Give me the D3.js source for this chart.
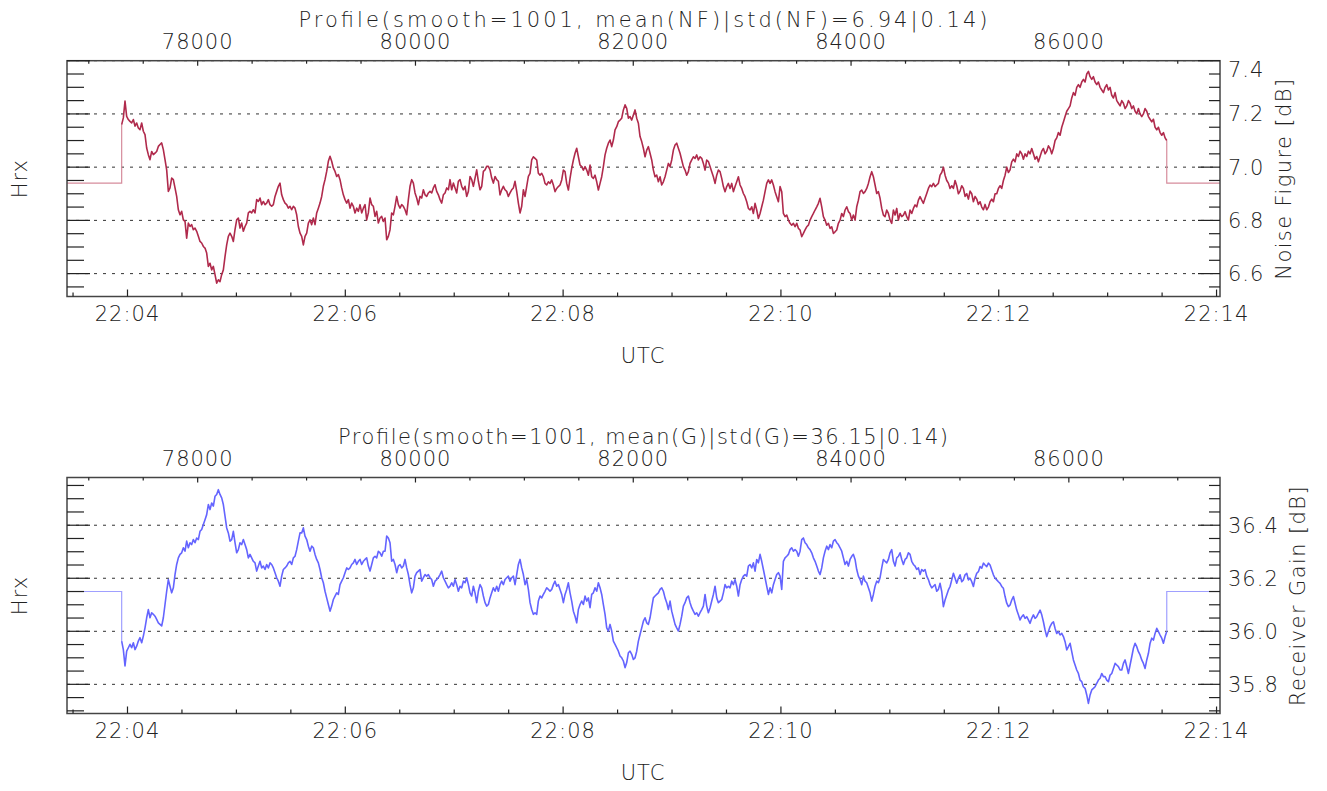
<!DOCTYPE html>
<html>
<head>
<meta charset="utf-8">
<script src="https://cdn.jsdelivr.net/npm/d3@7"></script>
<style>
  body { margin: 0; background: #fff; }
  text { font-family: "DejaVu Sans", sans-serif; font-weight: 200; fill: #222; }
</style>
</head>
<body>
<script>
// samples start at 22:03:56.79 UTC, one value every 0.9183 s
var startTime = "22:03:56.790";
var sampleStep = 0.9183;

var noiseFigure = [
  7.160,7.185,7.248,7.191,7.179,7.172,7.166,7.179,7.154,7.166,7.147,7.141,7.166,7.135,7.122,7.072,7.047,7.028,7.059,7.047,
  7.053,7.059,7.078,7.085,7.091,7.066,7.028,6.990,6.909,6.922,6.959,6.953,6.922,6.890,6.840,6.821,6.834,6.802,6.796,6.733,
  6.790,6.777,6.784,6.765,6.771,6.759,6.740,6.721,6.715,6.702,6.696,6.677,6.627,6.639,6.614,6.627,6.596,6.564,6.577,6.570,
  6.596,6.614,6.664,6.708,6.740,6.752,6.740,6.721,6.765,6.802,6.809,6.771,6.790,6.759,6.777,6.790,6.828,6.834,6.828,6.840,
  6.828,6.878,6.871,6.884,6.859,6.871,6.859,6.865,6.878,6.859,6.853,6.859,6.890,6.909,6.928,6.940,6.896,6.878,6.865,6.859,
  6.846,6.853,6.840,6.853,6.846,6.821,6.777,6.752,6.740,6.708,6.740,6.752,6.790,6.802,6.784,6.809,6.784,6.828,6.846,6.865,
  6.890,6.928,6.953,6.984,7.022,7.041,7.022,6.997,6.984,6.965,6.972,6.953,6.922,6.896,6.878,6.865,6.878,6.846,6.865,6.853,
  6.828,6.846,6.834,6.859,6.828,6.846,6.859,6.802,6.828,6.884,6.859,6.853,6.815,6.834,6.790,6.809,6.815,6.796,6.809,6.727,
  6.740,6.765,6.828,6.821,6.853,6.890,6.859,6.846,6.859,6.853,6.840,6.821,6.878,6.928,6.953,6.940,6.903,6.884,6.859,6.890,
  6.884,6.915,6.896,6.890,6.903,6.909,6.903,6.922,6.934,6.909,6.896,6.878,6.865,6.896,6.903,6.922,6.915,6.953,6.915,6.940,
  6.922,6.903,6.947,6.953,6.928,6.915,6.928,6.890,6.909,6.965,6.953,6.928,6.959,6.990,6.947,6.915,6.928,6.984,6.990,7.003,
  7.003,6.990,6.959,6.940,6.965,6.953,6.947,6.896,6.915,6.928,6.915,6.909,6.890,6.903,6.915,6.922,6.947,6.909,6.865,6.828,
  6.853,6.915,6.890,6.928,6.965,
  6.977,7.027,7.039,7.033,7.027,6.977,6.970,6.977,6.964,6.939,6.933,6.945,6.939,6.952,6.933,6.908,6.920,6.927,6.933,6.952,
  6.989,6.983,6.939,6.914,6.958,6.996,7.027,7.052,7.071,7.039,7.008,7.002,6.989,7.002,6.989,6.970,7.008,6.964,6.958,6.970,
  6.945,6.914,6.939,6.964,7.002,7.046,7.071,7.090,7.102,7.077,7.102,7.140,7.152,7.171,7.177,7.184,7.215,7.234,7.221,7.184,
  7.190,7.177,7.196,7.215,7.184,7.165,7.115,7.096,7.071,7.039,7.064,7.077,7.052,7.027,6.989,6.964,6.970,6.945,6.964,6.933,
  6.945,6.964,6.989,7.014,7.002,7.027,7.064,7.083,7.090,7.071,7.052,7.027,7.002,6.989,6.970,6.983,7.014,7.027,7.039,7.033,
  7.046,7.027,7.039,7.033,7.014,6.989,7.027,7.021,7.002,6.983,6.964,6.939,6.970,6.989,6.983,6.958,6.927,6.908,6.927,6.939,
  6.920,6.939,6.908,6.927,6.945,6.964,6.933,6.920,6.901,6.889,6.870,6.845,6.839,6.851,6.826,6.864,6.839,6.807,6.826,6.851,
  6.876,6.908,6.939,6.952,6.939,6.952,6.933,6.908,6.889,6.870,6.927,6.908,6.826,6.814,6.820,6.801,6.789,6.782,6.789,6.776,
  6.789,6.770,6.764,6.739,6.751,6.764,6.776,6.782,6.801,6.814,6.826,6.839,6.851,6.864,6.883,6.851,6.814,6.801,6.782,6.789,
  6.770,6.776,6.751,6.757,6.764,6.789,6.801,6.826,6.814,6.839,6.851,6.833,6.826,6.801,6.820,6.801,6.851,6.876,6.908,6.914,
  6.901,6.908,6.920,6.939,6.964,6.983,6.964,6.933,6.901,6.908,6.883,6.845,6.820,6.814,6.839,6.826,6.801,6.789,6.839,6.820,
  6.845,6.801,6.826,6.814,6.820,6.833,6.814,6.801,6.839,6.826,6.845,6.858,6.851,6.876,6.889,6.876,6.864,6.883,6.901,6.920,
  6.933,6.927,6.939,6.927,6.933,6.939,
  6.97,6.98,7.00,6.97,6.95,6.94,6.92,6.93,6.92,6.95,6.93,6.90,6.91,6.93,6.92,6.89,6.90,6.88,6.91,6.90,
  6.87,6.89,6.88,6.86,6.87,6.85,6.84,6.86,6.84,6.85,6.87,6.88,6.87,6.90,6.90,6.92,6.93,6.92,6.95,6.97,
  7.00,6.98,6.99,7.02,7.03,7.02,7.05,7.04,7.06,7.05,7.03,7.05,7.04,7.06,7.05,7.07,7.05,7.03,7.04,7.02,
  7.04,7.06,7.07,7.05,7.06,7.08,7.07,7.05,7.07,7.10,7.11,7.13,7.12,7.15,7.17,7.19,7.21,7.22,7.23,7.26,
  7.28,7.27,7.30,7.31,7.30,7.32,7.33,7.32,7.35,7.36,7.34,7.33,7.34,7.32,7.31,7.32,7.30,7.29,7.28,7.30,
  7.31,7.29,7.30,7.27,7.26,7.28,7.25,7.24,7.23,7.25,7.24,7.22,7.23,7.25,7.24,7.22,7.23,7.21,7.20,7.22,
  7.20,7.19,7.20,7.22,7.21,7.19,7.18,7.17,7.18,7.15,7.14,7.15,7.13,7.12,7.13,7.11,7.10
];

var receiverGain = [
  35.963,35.931,35.869,35.925,35.938,35.951,35.938,35.957,35.931,35.944,35.963,35.976,35.957,35.982,36.013,36.051,36.082,36.051,36.070,36.064,
  36.057,36.045,36.032,36.026,36.020,36.051,36.101,36.151,36.195,36.170,36.145,36.164,36.214,36.252,36.277,36.290,36.296,36.315,36.302,36.340,
  36.315,36.334,36.327,36.346,36.334,36.352,36.346,36.377,36.384,36.403,36.421,36.440,36.478,36.459,36.484,36.472,36.509,36.516,36.534,36.516,
  36.503,36.478,36.434,36.390,36.371,36.340,36.346,36.377,36.334,36.296,36.308,36.334,36.327,36.346,36.327,36.308,36.277,36.290,36.277,36.264,
  36.258,36.227,36.246,36.264,36.239,36.246,36.233,36.252,36.239,36.258,36.252,36.239,36.221,36.202,36.189,36.170,36.208,36.233,36.239,36.246,
  36.258,36.264,36.252,36.277,36.283,36.308,36.340,36.371,36.371,36.390,36.359,36.346,36.321,36.302,36.321,36.315,36.290,36.271,36.258,36.233,
  36.202,36.183,36.151,36.126,36.101,36.076,36.095,36.120,36.133,36.145,36.139,36.176,36.189,36.202,36.221,36.239,36.233,36.239,36.252,36.258,
  36.271,36.252,36.264,36.271,36.252,36.264,36.271,36.277,36.246,36.227,36.252,36.277,36.283,36.277,36.302,36.296,36.283,36.302,36.302,36.359,
  36.352,36.334,36.264,36.271,36.252,36.221,36.246,36.252,36.239,36.246,36.271,36.239,36.214,36.176,36.145,36.164,36.208,36.221,36.227,36.233,
  36.189,36.202,36.214,36.208,36.214,36.202,36.195,36.170,36.189,36.195,36.202,36.214,36.227,36.202,36.189,36.176,36.164,36.170,36.183,36.170,
  36.195,36.176,36.151,36.170,36.164,36.189,36.183,36.202,36.176,36.145,36.133,36.170,36.145,36.108,36.151,36.176,36.164,36.133,36.108,36.095,
  36.101,36.126,36.145,36.164,36.151,36.170,36.151,36.176,36.189,36.176,36.195,36.202,36.208,36.189,36.202,36.208,36.176,36.214,36.252,36.271,
  36.239,36.214,36.176,36.195,36.158,
  36.108,36.082,36.064,36.070,36.064,36.114,36.133,36.126,36.139,36.151,36.164,36.158,36.151,36.158,36.176,36.189,36.170,36.176,36.158,36.139,
  36.108,36.139,36.158,36.183,36.145,36.114,36.076,36.057,36.032,36.082,36.101,36.114,36.101,36.133,36.114,36.126,36.089,36.139,36.145,36.164,
  36.151,36.183,36.164,36.139,36.101,36.064,36.013,36.001,36.026,36.001,35.963,35.951,35.938,35.925,35.907,35.900,35.888,35.863,35.882,35.919,
  35.925,35.913,35.894,35.900,35.925,35.963,35.988,36.013,36.038,36.051,36.032,36.026,36.051,36.089,36.126,36.133,36.139,36.145,36.158,36.164,
  36.151,36.126,36.108,36.082,36.114,36.076,36.051,36.026,36.013,36.001,36.026,36.057,36.095,36.108,36.126,36.133,36.108,36.089,36.076,36.064,
  36.070,36.057,36.070,36.082,36.095,36.139,36.095,36.070,36.089,36.114,36.139,36.170,36.126,36.108,36.114,36.120,36.145,36.176,36.164,36.170,
  36.164,36.189,36.176,36.195,36.170,36.133,36.176,36.195,36.208,36.214,36.208,36.246,36.252,36.239,36.258,36.227,36.271,36.258,36.290,36.264,
  36.233,36.202,36.170,36.139,36.164,36.145,36.176,36.195,36.214,36.221,36.208,36.158,36.264,36.277,36.283,36.290,36.308,36.315,36.302,36.308,
  36.302,36.283,36.302,36.346,36.352,36.334,36.327,36.315,36.308,36.296,36.277,36.264,36.246,36.227,36.214,36.239,36.277,36.302,36.321,36.308,
  36.327,36.315,36.340,36.346,36.334,36.327,36.315,36.302,36.277,36.252,36.264,36.246,36.271,36.283,36.290,36.271,36.233,36.208,36.195,36.176,
  36.208,36.189,36.183,36.164,36.145,36.114,36.139,36.170,36.189,36.183,36.202,36.239,36.271,36.264,36.258,36.271,36.296,36.308,36.264,36.246,
  36.277,36.283,36.296,36.271,36.252,36.271,36.277,36.296,36.290,36.264,36.252,36.246,36.233,36.239,36.214,36.233,36.227,36.233,36.208,36.195,
  36.176,36.164,36.170,36.176,36.151,36.158,
  36.181,36.150,36.093,36.118,36.137,36.156,36.169,36.194,36.219,36.200,36.181,36.200,36.213,36.187,36.194,36.213,36.219,36.194,36.200,36.187,
  36.169,36.200,36.219,36.225,36.244,36.238,36.257,36.250,36.244,36.257,36.250,36.231,36.213,36.200,36.194,36.187,36.181,36.169,36.162,36.131,
  36.106,36.093,36.099,36.118,36.131,36.106,36.080,36.062,36.043,36.055,36.062,36.049,36.055,36.043,36.030,36.049,36.062,36.049,36.055,36.068,
  36.080,36.062,36.036,36.005,35.980,35.999,36.018,36.030,36.036,36.011,35.992,35.999,35.986,35.992,35.980,35.961,35.930,35.942,35.955,35.923,
  35.892,35.873,35.854,35.841,35.816,35.810,35.791,35.785,35.760,35.728,35.760,35.779,35.785,35.791,35.804,35.816,35.823,35.841,35.829,35.829,
  35.816,35.810,35.835,35.841,35.860,35.879,35.873,35.867,35.854,35.854,35.879,35.892,35.867,35.841,35.873,35.904,35.936,35.955,35.942,35.923,
  35.911,35.892,35.879,35.860,35.892,35.917,35.955,35.974,35.967,35.992,36.011,35.999,35.986,35.974,35.955,35.980,35.999
];

var nfMean = 6.94, nfStd = 0.14;
var gainMean = 36.15, gainStd = 0.14;
var nfTicks = [6.6, 6.8, 7.0, 7.2, 7.4];
var gainTicks = [35.8, 36.0, 36.2, 36.4];
var sampleTicks = [78000, 80000, 82000, 84000, 86000];

var W = 1327, H = 791;
var left = 67, right = 1220;

var svg = d3.select("body").append("svg")
    .attr("width", W)
    .attr("height", H);

var parseT = d3.utcParse("%H:%M:%S.%L");
var t0 = parseT(startTime);

var x = d3.scaleUtc()
    .domain([parseT("22:03:26.670"), parseT("22:14:01.900")])
    .range([left, right]);

// sample counter shown along the top edge
var xs = d3.scaleLinear()
    .domain([76800, 87388])
    .range([left, right]);

function timeOf(i) { return new Date(t0.getTime() + i * sampleStep * 1000); }

var panels = [
    {top: 60.7, bottom: 296.5, domain: [6.514, 7.4], data: noiseFigure, mean: nfMean,
     color: "#b02a4c", flat: "#d68c9c", ticks: nfTicks, label: "Noise Figure [dB]", labelX: 1291, titleWidth: 689,
     title: "Profile(smooth=1001, mean(NF)|std(NF)=" + nfMean.toFixed(2) + "|" + nfStd.toFixed(2) + ")"},
    {top: 477.5, bottom: 713.5, domain: [35.69, 36.58], data: receiverGain, mean: gainMean,
     color: "#6464ff", flat: "#a0a0ff", ticks: gainTicks, label: "Receiver Gain [dB]", labelX: 1305, titleWidth: 610,
     title: "Profile(smooth=1001, mean(G)|std(G)=" + gainMean.toFixed(2) + "|" + gainStd.toFixed(2) + ")"}
];

panels.forEach(function(p) {
    var y = d3.scaleLinear().domain(p.domain).range([p.bottom, p.top]);
    var g = svg.append("g");

    // dotted grid at labelled values
    g.selectAll("line.grid")
        .data(p.ticks)
        .enter().append("line")
        .attr("class", "grid")
        .attr("x1", left).attr("x2", right)
        .attr("y1", function(d){ return y(d); })
        .attr("y2", function(d){ return y(d); })
        .attr("stroke", "#333")
        .attr("stroke-width", 1)
        .attr("stroke-dasharray", "3,6");

    // mean value outside the recorded span
    var n = p.data.length;
    var tEnd = timeOf(n - 1);
    var flat = d3.line().x(function(d){ return x(d[0]); }).y(function(d){ return y(d[1]); });
    g.append("path")
        .attr("d", flat([[x.domain()[0], p.mean], [t0, p.mean], [t0, p.data[0]]]))
        .attr("fill", "none").attr("stroke", p.flat).attr("stroke-width", 1.2);
    g.append("path")
        .attr("d", flat([[tEnd, p.data[n - 1]], [tEnd, p.mean], [x.domain()[1], p.mean]]))
        .attr("fill", "none").attr("stroke", p.flat).attr("stroke-width", 1.2);

    var line = d3.line()
        .x(function(d, i){ return x(timeOf(i)); })
        .y(function(d){ return y(d); });
    g.append("path")
        .datum(p.data)
        .attr("d", line)
        .attr("fill", "none")
        .attr("stroke", p.color)
        .attr("stroke-width", 1.6)
        .attr("stroke-linejoin", "round");

    // frame
    g.append("rect")
        .attr("x", left).attr("y", p.top)
        .attr("width", right - left).attr("height", p.bottom - p.top)
        .attr("fill", "none").attr("stroke", "#444").attr("stroke-width", 1.5);

    // y ticks, both sides
    var minor = d3.range(Math.ceil(p.domain[0] / 0.05) * 0.05, p.domain[1] + 1e-6, 0.05);
    var isMajor = function(v){ return p.ticks.some(function(t){ return Math.abs(t - v) < 1e-6; }); };
    g.selectAll("line.yl")
        .data(minor)
        .enter().append("line")
        .attr("x1", left).attr("x2", function(d){ return left + (isMajor(d) ? 23 : 17); })
        .attr("y1", function(d){ return y(d); }).attr("y2", function(d){ return y(d); })
        .attr("stroke", "#222").attr("stroke-width", 1.2);
    g.selectAll("line.yr")
        .data(minor)
        .enter().append("line")
        .attr("x1", right).attr("x2", function(d){ return right - (isMajor(d) ? 22 : 11); })
        .attr("y1", function(d){ return y(d); }).attr("y2", function(d){ return y(d); })
        .attr("stroke", "#222").attr("stroke-width", 1.2);

    g.selectAll("text.yt")
        .data(p.ticks)
        .enter().append("text")
        .attr("x", right + 8)
        .attr("y", function(d){ return Math.max(y(d), p.top + 8.5); })
        .attr("dy", "0.36em")
        .attr("font-size", 21)
        .attr("letter-spacing", 1)
        .text(function(d){ return d.toFixed(1); });

    // bottom time axis
    var secTicks = x.ticks(d3.utcSecond.every(30));
    g.selectAll("line.xb")
        .data(secTicks)
        .enter().append("line")
        .attr("x1", function(d){ return x(d); }).attr("x2", function(d){ return x(d); })
        .attr("y1", p.bottom)
        .attr("y2", function(d){ return p.bottom - (d.getUTCSeconds() === 0 && d.getUTCMinutes() % 2 === 0 ? 7 : 4); })
        .attr("stroke", "#222").attr("stroke-width", 1.2);
    g.selectAll("text.xb")
        .data(x.ticks(d3.utcMinute.every(2)))
        .enter().append("text")
        .attr("x", function(d){ return x(d); })
        .attr("y", p.bottom + 24)
        .attr("text-anchor", "middle")
        .attr("font-size", 21)
        .attr("letter-spacing", 1)
        .text(d3.utcFormat("%H:%M"));
    g.append("text")
        .attr("x", 643).attr("y", p.bottom + 66)
        .attr("text-anchor", "middle")
        .attr("font-size", 21)
        .attr("letter-spacing", 1)
        .text("UTC");

    // top sample axis
    var sMinor = d3.range(77000, 87388, 500);
    g.selectAll("line.xt")
        .data(sMinor)
        .enter().append("line")
        .attr("x1", function(d){ return xs(d); }).attr("x2", function(d){ return xs(d); })
        .attr("y1", p.top)
        .attr("y2", function(d){ return p.top + (d % 2000 === 0 ? 5 : 3); })
        .attr("stroke", "#222").attr("stroke-width", 1.2);
    g.selectAll("text.xt")
        .data(sampleTicks)
        .enter().append("text")
        .attr("x", function(d){ return xs(d); })
        .attr("y", p.top - 12)
        .attr("text-anchor", "middle")
        .attr("font-size", 21)
        .attr("letter-spacing", 1)
        .text(function(d){ return d; });

    g.append("text")
        .attr("x", 643).attr("y", p.top - 34)
        .attr("text-anchor", "middle")
        .attr("font-size", 21)
        .attr("textLength", p.titleWidth)
        .attr("lengthAdjust", "spacing")
        .text(p.title);

    var mid = (p.top + p.bottom) / 2;
    g.append("text")
        .attr("transform", "translate(27," + mid + ") rotate(-90)")
        .attr("text-anchor", "middle")
        .attr("font-size", 21)
        .attr("letter-spacing", 1)
        .text("Hrx");
    g.append("text")
        .attr("transform", "translate(" + p.labelX + "," + mid + ") rotate(-90)")
        .attr("text-anchor", "middle")
        .attr("font-size", 21)
        .attr("letter-spacing", 1.4)
        .text(p.label);
});
</script>
</body>
</html>
